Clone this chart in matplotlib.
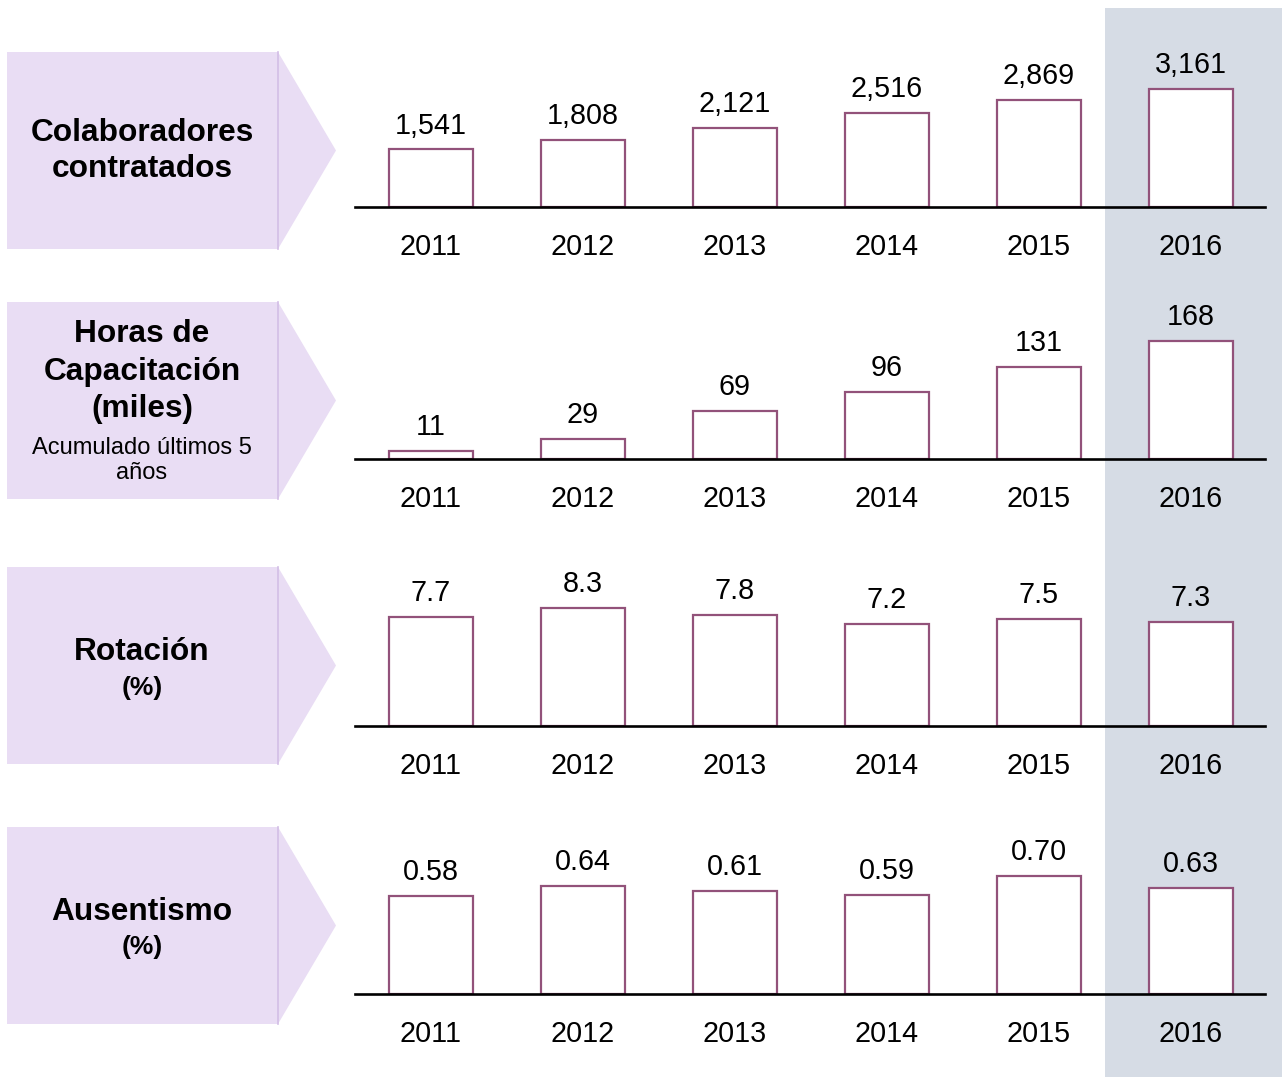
import matplotlib
matplotlib.use("Agg")
import matplotlib.pyplot as plt
from matplotlib.patches import Polygon, Rectangle
from matplotlib.lines import Line2D

plt.rcParams['font.family'] = ['Liberation Sans', 'DejaVu Sans']

# data
years = ['2011', '2012', '2013', '2014', '2015', '2016']
colaboradores = [1541, 1808, 2121, 2516, 2869, 3161]
horas = [11, 29, 69, 96, 131, 168]
rotacion = [7.7, 8.3, 7.8, 7.2, 7.5, 7.3]
ausentismo = [0.58, 0.64, 0.61, 0.59, 0.70, 0.63]

W, H = 1287, 1087
fig = plt.figure(figsize=(W / 100, H / 100), dpi=100)
fig.patch.set_facecolor('white')


def fx(x):
    return x / W


def fy(y):
    return 1 - y / H


BAR_EDGE = '#92527A'
CHEV = '#E9DDF4'
CHEV_LINE = '#D3BEE6'
HILITE = '#D6DCE5'

# highlight column behind 2016
fig.patches.append(Rectangle((fx(1105), fy(1077)), fx(1282) - fx(1105), fy(8) - fy(1077),
                             transform=fig.transFigure, facecolor=HILITE,
                             edgecolor='none', zorder=-5))

# panels: (values, format, chevron top, chevron bottom, axis baseline, label lines)
panels = [
    (colaboradores, '{:,.0f}', 52, 249, 207,
     [('Colaboradores', 133, 22.8, 'bold'), ('contratados', 169, 22.8, 'bold')]),
    (horas, '{:.0f}', 302, 499, 459,
     [('Horas de', 334, 22.8, 'bold'), ('Capacitación', 372, 22.8, 'bold'),
      ('(miles)', 409, 22.8, 'bold'), ('Acumulado últimos 5', 448, 17, 'normal'),
      ('años', 473, 17, 'normal')]),
    (rotacion, '{:.1f}', 567, 764, 726,
     [('Rotación', 652, 22.8, 'bold'), ('(%)', 688, 19, 'bold')]),
    (ausentismo, '{:.2f}', 827, 1024, 994,
     [('Ausentismo', 912, 22.8, 'bold'), ('(%)', 947, 19, 'bold')]),
]

AX_L, AX_R, AX_H = 355, 1265, 150
for vals, fmt, top, bot, base, lines in panels:
    # chevron
    mid = (top + bot) / 2
    pts = [(7, top), (278, top), (336, mid), (278, bot), (7, bot)]
    fig.patches.append(Polygon([(fx(x), fy(y)) for x, y in pts], closed=True,
                               transform=fig.transFigure, facecolor=CHEV,
                               edgecolor='none', zorder=-4))
    fig.lines.append(Line2D([fx(278), fx(278)], [fy(top), fy(bot)],
                            transform=fig.transFigure, color=CHEV_LINE, lw=1.2, zorder=-3))
    for txt, y, fs, wt in lines:
        fig.text(fx(142), fy(y), txt, ha='center', va='center', fontsize=fs,
                 fontweight=wt, color='black', zorder=3)

    # bar chart
    ax = fig.add_axes([fx(AX_L), fy(base), fx(AX_R) - fx(AX_L), AX_H / H])
    ax.patch.set_alpha(0)
    x = list(range(len(years)))
    ax.bar(x, vals, width=0.553, facecolor='white', edgecolor=BAR_EDGE, linewidth=1.6, zorder=2)
    ax.set_xlim(-0.5, 5.49)
    ax.set_ylim(0, max(vals) * AX_H / 118)
    for s in ['top', 'left', 'right']:
        ax.spines[s].set_visible(False)
    ax.spines['bottom'].set_linewidth(1.9)
    ax.spines['bottom'].set_zorder(3)
    ax.set_xticks([])
    ax.set_yticks([])
    for i, v in enumerate(vals):
        ax.annotate(fmt.format(v), (i, v), xytext=(0, 11.5), textcoords='offset points',
                    ha='center', va='baseline', fontsize=20.7, annotation_clip=False)
        ax.annotate(years[i], (i, 0), xytext=(0, -34.6), textcoords='offset points',
                    ha='center', va='baseline', fontsize=20.7, annotation_clip=False)

fig.savefig('out.png', dpi=100)
